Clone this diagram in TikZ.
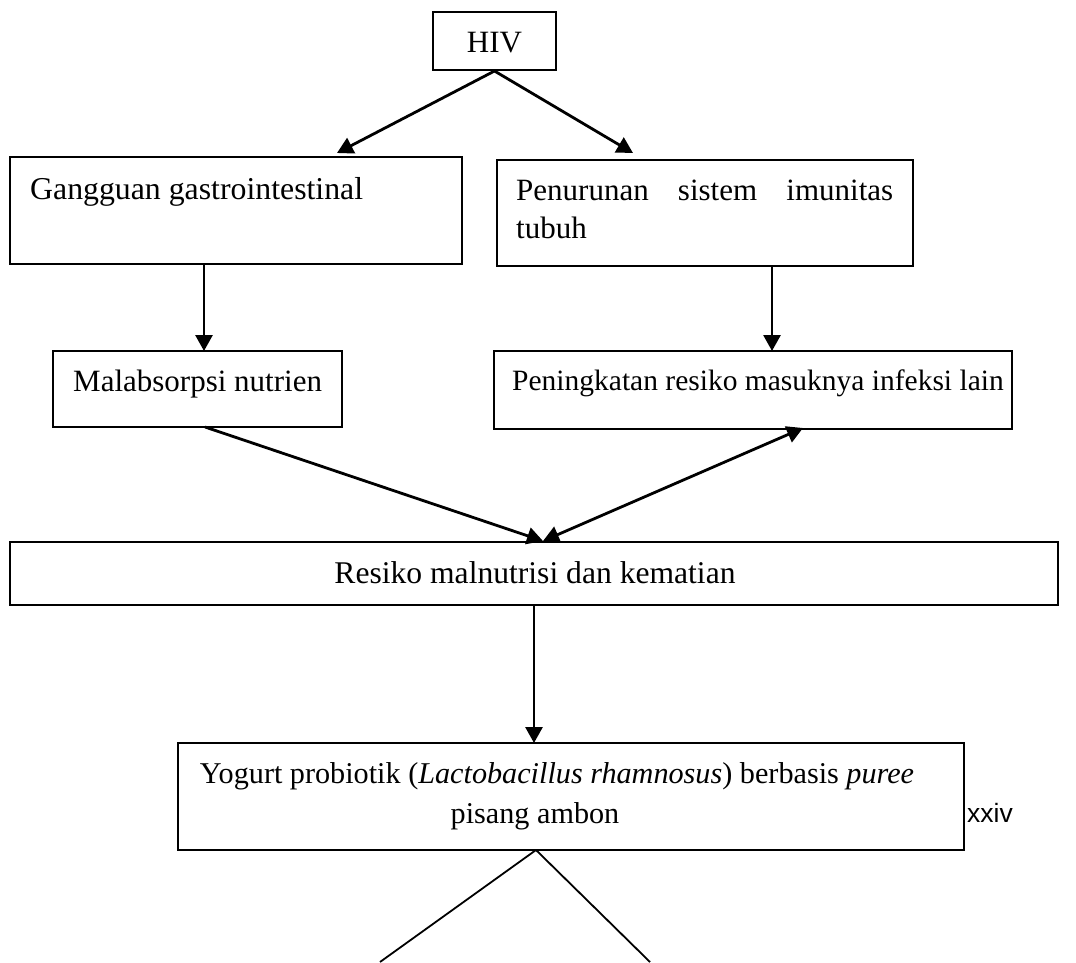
\documentclass[tikz,border=0pt]{standalone}
\usepackage{fontspec}
\setmainfont{Liberation Serif}
\newfontfamily\pagefont{Liberation Sans}
\usetikzlibrary{arrows.meta}
\begin{document}
\begin{tikzpicture}[x=1pt,y=-1pt,
  box/.style={draw,line width=2pt,inner sep=0pt},
  lbl/.style={inner sep=0pt,font=\fontsize{31}{38}\selectfont},
  lblsize/.style={font=\fontsize{#1}{38}\selectfont},
  arr/.style={line width=2.8pt,-{Triangle[length=16pt,width=17pt]}},
  barr/.style={line width=2.8pt,{Triangle[length=16pt,width=17pt]}-{Triangle[length=16pt,width=17pt]}},
  thin/.style={line width=1.8pt}]
\useasboundingbox (0,0) rectangle (1076,962);

% boxes
\node[box,minimum width=123pt,minimum height=58pt] (hiv) at (494.5,41) {};
\node[box,minimum width=452pt,minimum height=107pt] (gang) at (236,210.5) {};
\node[box,minimum width=416pt,minimum height=106pt] (pen) at (705,213) {};
\node[box,minimum width=289pt,minimum height=76pt] (mal) at (197.5,389) {};
\node[box,minimum width=518pt,minimum height=78pt] (pening) at (753,390) {};
\node[box,minimum width=1048pt,minimum height=63pt] (res) at (534,573.5) {};
\node[box,minimum width=786pt,minimum height=107pt] (yog) at (571,796.5) {};

% texts
\node[lbl,anchor=base] (thiv) at (494.5,52) {HIV};
\node[lbl,lblsize=31.8,anchor=base west] (tgang) at (30,199) {Gangguan gastrointestinal};
\node[lbl,anchor=base west] (tpen1) at (516,200) {\makebox[377pt][s]{Penurunan\hfill sistem\hfill imunitas}};
\node[lbl,anchor=base west] (tpen2) at (516,238) {tubuh};
\node[lbl,anchor=base west] (tmal) at (73,391) {Malabsorpsi nutrien};
\node[lbl,lblsize=29.5,anchor=base west] (tpening) at (512,390) {Peningkatan resiko masuknya infeksi lain};
\node[lbl,lblsize=31.6,anchor=base] (tres) at (535,583) {Resiko malnutrisi dan kematian};
\node[lbl,lblsize=30.2,anchor=base] (tyog1) at (557,783) {Yogurt probiotik (\textit{Lactobacillus rhamnosus}) berbasis \textit{puree}};
\node[lbl,lblsize=30.2,anchor=base] (tyog2) at (535,823) {pisang ambon};
\node[inner sep=0pt,anchor=base west,font=\pagefont\fontsize{26.5}{30}\selectfont] (page) at (967,822) {xxiv};

% connector end points
\coordinate (hivl) at (337,153);
\coordinate (hivr) at (633,153);
\coordinate (gangb) at (204,264);
\coordinate (malt) at (204,351);
\coordinate (penb) at (772,266);
\coordinate (peningt) at (772,351);
\coordinate (malb) at (205,427);
\coordinate (rest) at (543,541);
\coordinate (peningb) at (803,428);
\coordinate (resb) at (534,605);
\coordinate (yogt) at (534,743);
\coordinate (yogb) at (536,850);
\coordinate (endl) at (380,962);
\coordinate (endr) at (650,962);

% connectors
\draw[arr] (hiv.south) -- (hivl);
\draw[arr] (hiv.south) -- (hivr);
\draw[arr] (gangb) -- (malt);
\draw[arr] (penb) -- (peningt);
\draw[arr] (malb) -- (rest);
\draw[barr] (rest) -- (peningb);
\draw[arr] (resb) -- (yogt);
\draw[thin] (yogb) -- (endl);
\draw[thin] (yogb) -- (endr);
\end{tikzpicture}
\end{document}
